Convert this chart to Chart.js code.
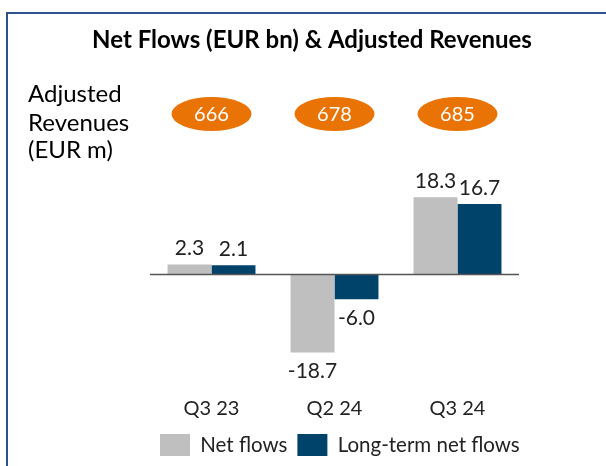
<!DOCTYPE html>
<html lang="en">
<head>
<meta charset="UTF-8">
<title>Net Flows (EUR bn) & Adjusted Revenues</title>
<script src="https://cdn.jsdelivr.net/npm/chart.js"></script>
<style>
  html, body { margin: 0; padding: 0; background: #fff; }
</style>
</head>
<body>
<canvas id="flowChart" width="606" height="466"></canvas>
<script>
// chart data
const quarters = ['Q3 23', 'Q2 24', 'Q3 24'];
const netFlows = [2.3, -18.7, 18.3];
const longTermNetFlows = [2.1, -6.0, 16.7];
const adjustedRevenues = [666, 678, 685];

const FONT = 'Lato, "Open Sans", sans-serif';
const ctx = document.getElementById('flowChart').getContext('2d');

// frame, title, revenue bubbles, value labels and the zero line
const decorPlugin = {
    id: 'decor',
    beforeDraw(chart) {
        const c = chart.ctx;
        c.save();
        c.fillStyle = '#fff';
        c.fillRect(0, 0, chart.width, chart.height);

        c.strokeStyle = '#2F528F';
        c.lineWidth = 2;
        c.beginPath();
        c.moveTo(7, chart.height);
        c.lineTo(7, 13);
        c.lineTo(chart.width, 13);
        c.stroke();

        c.fillStyle = '#000';
        c.font = 'bold 24px ' + FONT;
        c.textAlign = 'center';
        c.textBaseline = 'alphabetic';
        c.fillText('Net Flows (EUR bn) & Adjusted Revenues', 312, 48);

        c.font = '24px ' + FONT;
        c.textAlign = 'left';
        c.fillText('Adjusted', 28, 102);
        c.fillText('Revenues', 28, 131);
        c.fillText('(EUR m)', 28, 158);
        c.restore();
    },
    afterDatasetsDraw(chart) {
        const c = chart.ctx;
        const area = chart.chartArea;
        const x = chart.scales.x;
        const y = chart.scales.y;
        c.save();

        // zero line
        const y0 = Math.round(y.getPixelForValue(0)) + 0.5;
        c.strokeStyle = '#555';
        c.lineWidth = 1.5;
        c.beginPath();
        c.moveTo(area.left, y0);
        c.lineTo(area.right, y0);
        c.stroke();

        // value labels
        c.font = '21px ' + FONT;
        c.fillStyle = '#222';
        c.textAlign = 'center';
        c.textBaseline = 'middle';
        chart.data.datasets.forEach((ds, i) => {
            chart.getDatasetMeta(i).data.forEach((bar, j) => {
                const v = ds.data[j];
                const ty = v >= 0 ? bar.y - 16 : bar.y + 19;
                c.fillText(v.toFixed(1), bar.x, ty);
            });
        });

        // revenue bubbles
        adjustedRevenues.forEach((rev, i) => {
            const cx = x.getPixelForValue(i);
            c.fillStyle = '#E97304';
            c.beginPath();
            c.ellipse(cx, 114, 40, 17, 0, 0, Math.PI * 2);
            c.fill();
            c.fillStyle = '#fff';
            c.font = '20px ' + FONT;
            c.fillText(String(rev), cx, 115);
        });
        c.restore();
    }
};

const chart = new Chart(ctx, {
    type: 'bar',
    data: {
        labels: quarters,
        datasets: [
            {
                label: 'Net flows',
                data: netFlows,
                backgroundColor: '#BFBFBF',
            },
            {
                label: 'Long-term net flows',
                data: longTermNetFlows,
                backgroundColor: '#00436A',
            },
        ],
    },
    options: {
        responsive: false,
        animation: false,
        devicePixelRatio: 1,
        layout: { padding: { left: 150, right: 0, top: 173, bottom: 0 } },
        categoryPercentage: 0.715,
        barPercentage: 1.0,
        plugins: {
            title: { display: false },
            tooltip: { enabled: false },
            legend: {
                position: 'bottom',
                align: 'start',
                labels: {
                    boxWidth: 30,
                    boxHeight: 22,
                    padding: 10,
                    color: '#222',
                    font: { family: FONT, size: 20.5 },
                },
            },
        },
        scales: {
            x: {
                grid: { display: false, drawTicks: false },
                border: { display: false },
                ticks: {
                    color: '#222',
                    padding: 19,
                    font: { family: FONT, size: 20 },
                },
                afterFit(scale) { scale.height = 46; },
            },
            y: {
                position: 'right',
                min: -24.8,
                max: 24.1,
                grid: { display: false, drawTicks: false },
                border: { display: false },
                ticks: { display: false },
                // keep an empty strip on the right so the plot ends where the reference does
                afterFit(scale) { scale.width = 87; },
            },
        },
    },
    plugins: [decorPlugin],
});
</script>
</body>
</html>
